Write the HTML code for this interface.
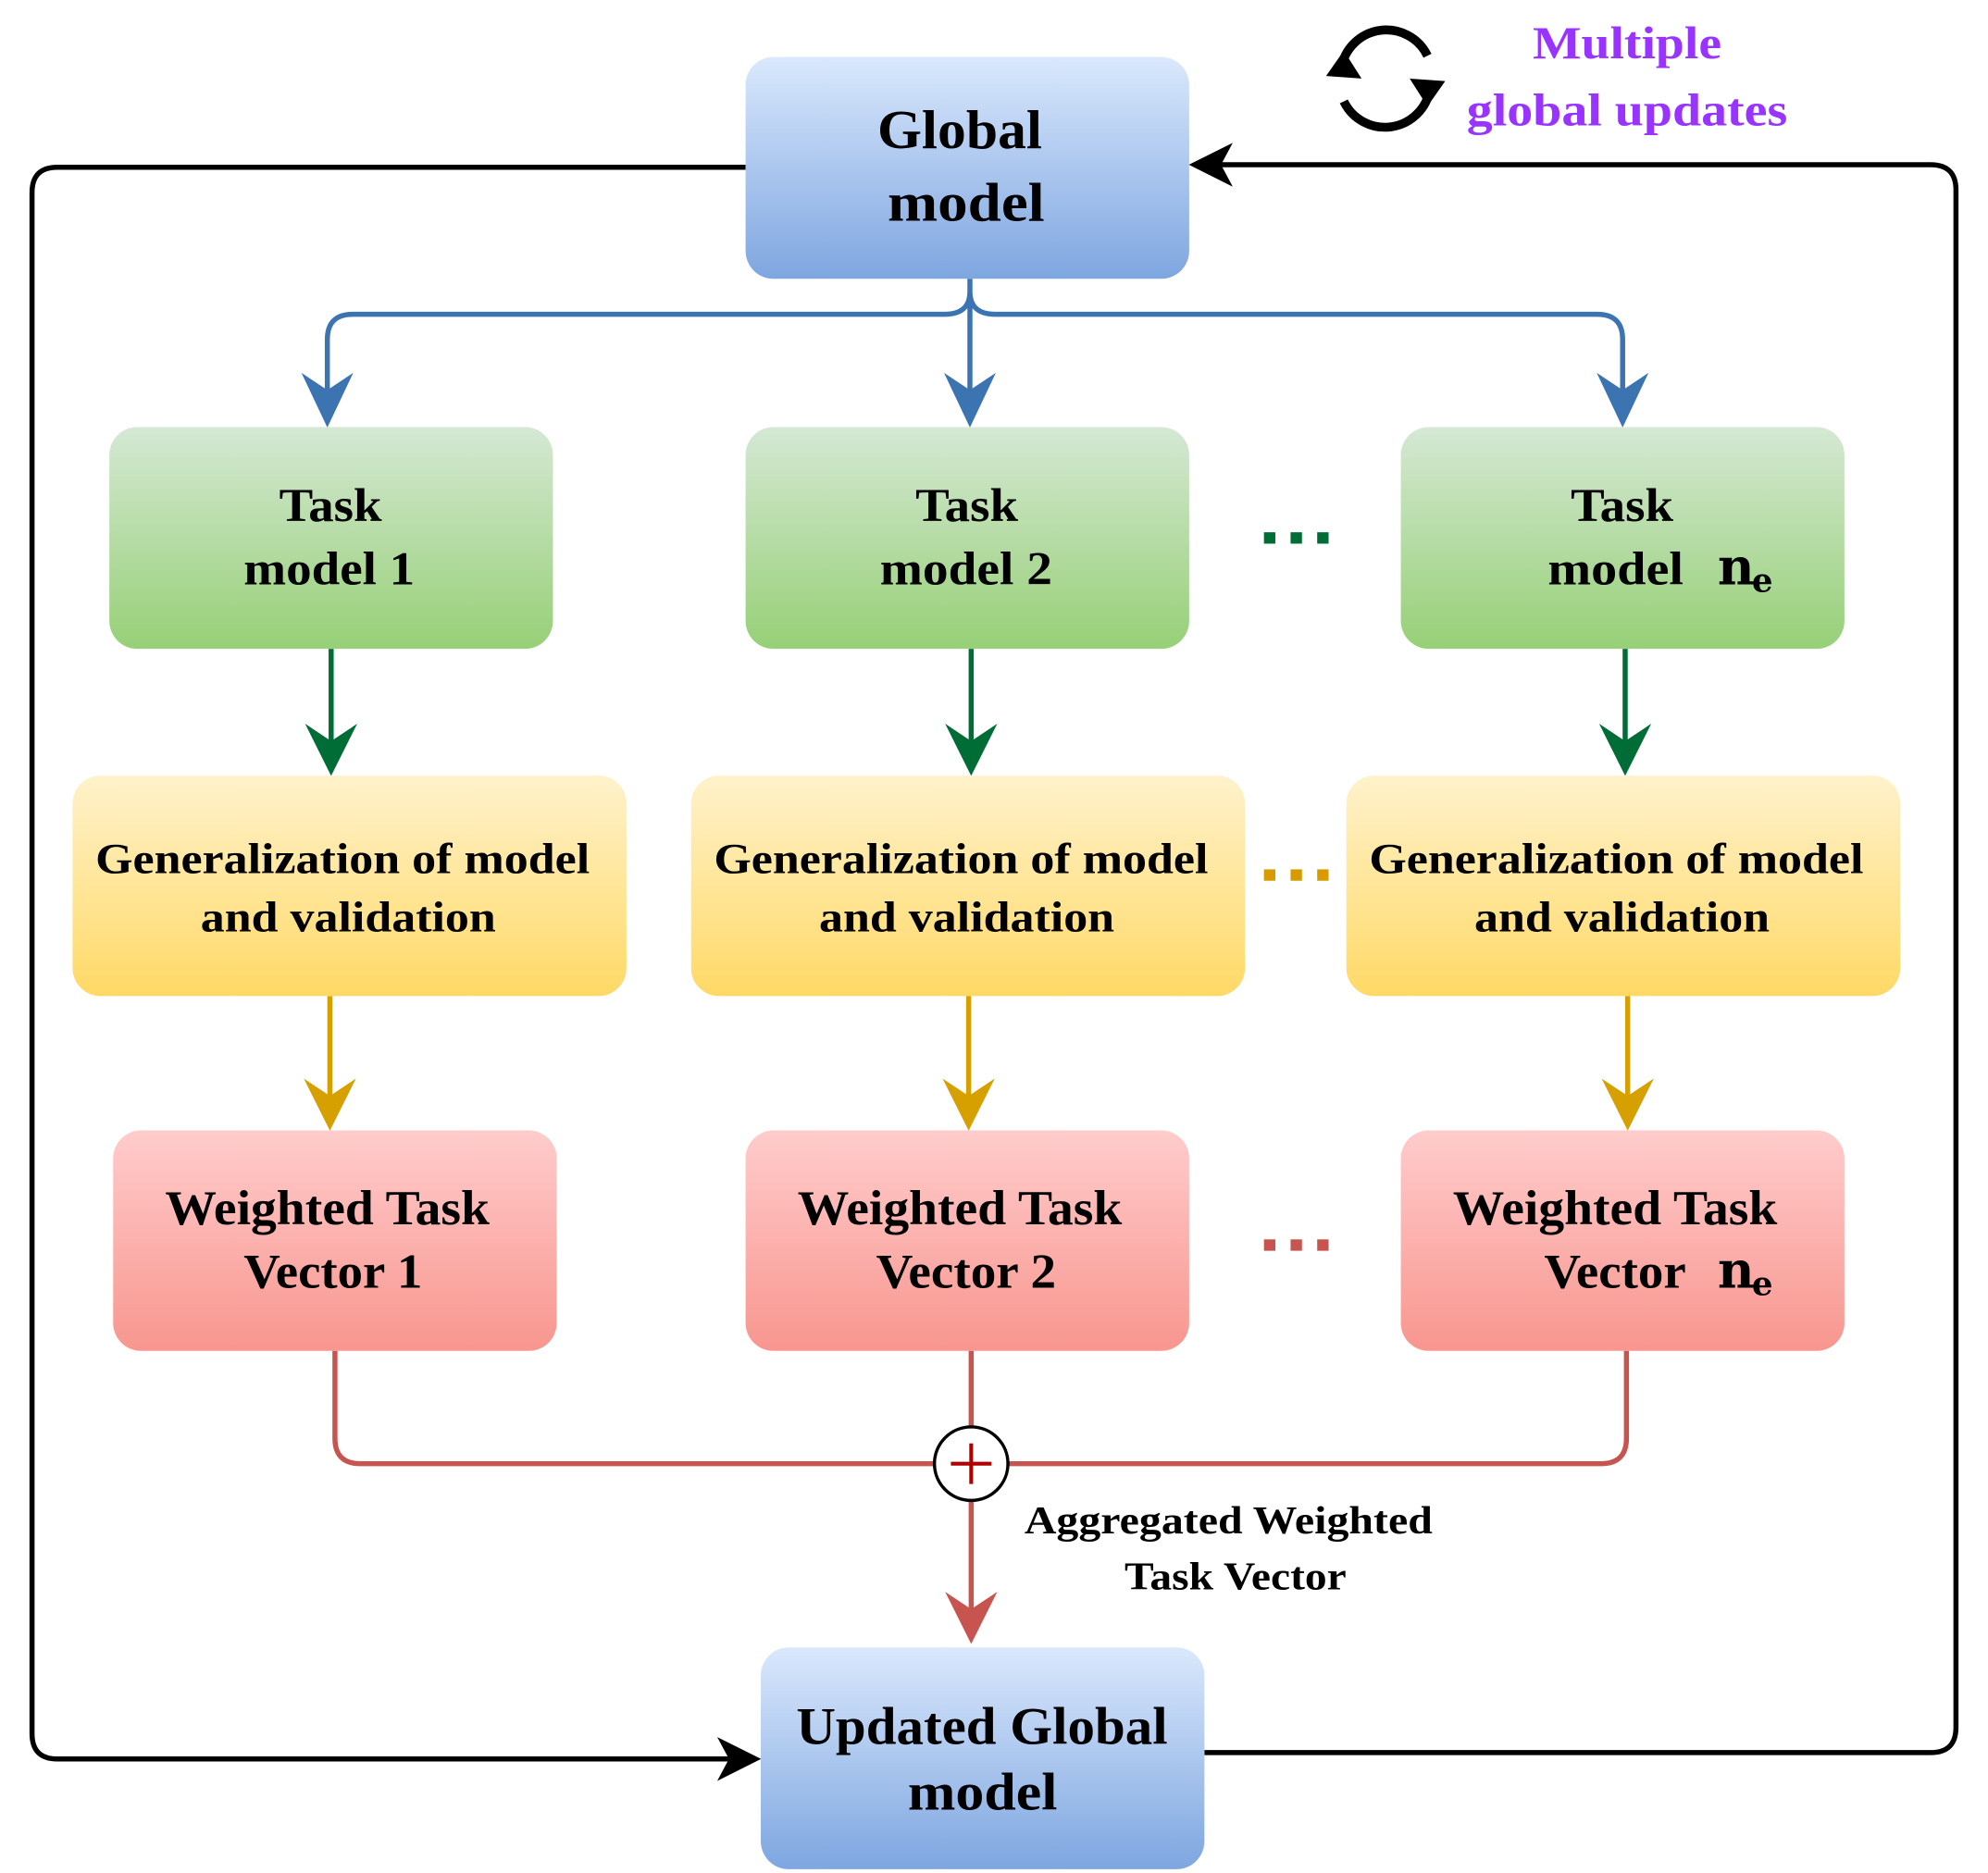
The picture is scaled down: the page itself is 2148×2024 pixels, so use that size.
<!DOCTYPE html>
<html><head><meta charset="utf-8"><style>html,body{margin:0;padding:0;background:#fff}svg{display:block}</style></head>
<body>
<svg width="2148" height="2024" viewBox="0 0 1568 1478" xmlns="http://www.w3.org/2000/svg" font-family="Liberation Serif, serif" font-weight="bold">
<defs>
<linearGradient id="gb" x1="0" y1="0" x2="0" y2="1"><stop offset="0" stop-color="#dae8fc"/><stop offset="1" stop-color="#7ea6e0"/></linearGradient>
<linearGradient id="gg" x1="0" y1="0" x2="0" y2="1"><stop offset="0" stop-color="#d5e8d4"/><stop offset="1" stop-color="#97d077"/></linearGradient>
<linearGradient id="gy" x1="0" y1="0" x2="0" y2="1"><stop offset="0" stop-color="#fff2cc"/><stop offset="1" stop-color="#ffd966"/></linearGradient>
<linearGradient id="gr" x1="0" y1="0" x2="0" y2="1"><stop offset="0" stop-color="#ffcccc"/><stop offset="1" stop-color="#f8968f"/></linearGradient>
</defs>
<g fill="none" stroke-width="4">
<path d="M588 132 H45 Q25 132 25 152 V1368 Q25 1388 45 1388 H590" stroke="#000"/>
<path d="M598 1388 l-30 -15 l8 15 l-8 15 z" fill="#000" stroke="#000" stroke-width="2"/>
<path d="M950 1383 H1523 Q1543 1383 1543 1363 V150 Q1543 130 1523 130 H962" stroke="#000"/>
<path d="M940 130 l30 -15 l-8 15 l8 15 z" fill="#000" stroke="#000" stroke-width="2"/>
<path d="M765 220 V230 Q765 248 745 248 H278 Q258 248 258 268 V315 M765 230 V315 M765 230 Q765 248 785 248 H1260 Q1280 248 1280 268 V315" stroke="#3b74b0"/>
<g fill="#3b74b0" stroke="#3b74b0" stroke-width="2"><path d="M258 335 l-18 -38 l18 12 l18 -12z"/><path d="M765 335 l-18 -38 l18 12 l18 -12z"/><path d="M1280 335 l-18 -38 l18 12 l18 -12z"/></g>
<path d="M261 512 V590 M766 512 V590 M1282 512 V590" stroke="#006d37"/>
<g fill="#006d37" stroke="#006d37" stroke-width="2"><path d="M261 610 l-18 -36 l18 12 l18 -12z"/><path d="M766 610 l-18 -36 l18 12 l18 -12z"/><path d="M1282 610 l-18 -36 l18 12 l18 -12z"/></g>
<path d="M260 786 V870 M764 786 V870 M1284 786 V870" stroke="#d6a000"/>
<g fill="#d6a000" stroke="#d6a000" stroke-width="2"><path d="M260 890 l-18 -36 l18 12 l18 -12z"/><path d="M764 890 l-18 -36 l18 12 l18 -12z"/><path d="M1284 890 l-18 -36 l18 12 l18 -12z"/></g>
<path d="M264 1066 V1135 Q264 1155 284 1155 H737 M1283 1066 V1135 Q1283 1155 1263 1155 H795 M766 1066 V1126 M766 1184 V1275" stroke="#c85450"/>
<path d="M766 1295 l-18 -36 l18 12 l18 -12z" fill="#c85450" stroke="#c85450" stroke-width="2"/>
</g>
<circle cx="766" cy="1155" r="29" fill="#fff" stroke="#000" stroke-width="2.5"/>
<path d="M766 1139 V1171 M750 1155 H782" stroke="#b00000" stroke-width="3"/>
<rect x="588" y="45" width="350" height="175" rx="22" fill="url(#gb)"/>
<rect x="600" y="1300" width="350" height="175" rx="22" fill="url(#gb)"/>
<rect x="86" y="337" width="350" height="175" rx="22" fill="url(#gg)"/>
<rect x="588" y="337" width="350" height="175" rx="22" fill="url(#gg)"/>
<rect x="1105" y="337" width="350" height="175" rx="22" fill="url(#gg)"/>
<rect x="57" y="612" width="437" height="174" rx="22" fill="url(#gy)"/>
<rect x="545" y="612" width="437" height="174" rx="22" fill="url(#gy)"/>
<rect x="1062" y="612" width="437" height="174" rx="22" fill="url(#gy)"/>
<rect x="89" y="892" width="350" height="174" rx="22" fill="url(#gr)"/>
<rect x="588" y="892" width="350" height="174" rx="22" fill="url(#gr)"/>
<rect x="1105" y="892" width="350" height="174" rx="22" fill="url(#gr)"/>
<g fill="#000" lengthAdjust="spacingAndGlyphs">
<text x="692" y="117" font-size="43" textLength="130" lengthAdjust="spacingAndGlyphs">Global</text>
<text x="700" y="174" font-size="43" textLength="124" lengthAdjust="spacingAndGlyphs">model</text>
<text x="628" y="1376" font-size="42" textLength="293" lengthAdjust="spacingAndGlyphs">Updated Global</text>
<text x="716" y="1428" font-size="42" textLength="118" lengthAdjust="spacingAndGlyphs">model</text>
<g font-size="37">
<text x="220" y="411" textLength="81" lengthAdjust="spacingAndGlyphs">Task</text>
<text x="192" y="461" textLength="135" lengthAdjust="spacingAndGlyphs">model 1</text>
<text x="722" y="411" textLength="81" lengthAdjust="spacingAndGlyphs">Task</text>
<text x="694" y="461" textLength="136" lengthAdjust="spacingAndGlyphs">model 2</text>
<text x="1239" y="411" textLength="81" lengthAdjust="spacingAndGlyphs">Task</text>
<text x="1221" y="461" textLength="107" lengthAdjust="spacingAndGlyphs">model</text>
<text x="1355" y="461" font-size="40" font-family="DejaVu Serif, serif">n</text><text x="1382" y="467" font-size="26" font-family="DejaVu Serif, serif">e</text>
</g>
<g font-size="34">
<text x="75" y="689" textLength="390" lengthAdjust="spacingAndGlyphs">Generalization of model</text>
<text x="158" y="735" textLength="233" lengthAdjust="spacingAndGlyphs">and validation</text>
<text x="563" y="689" textLength="390" lengthAdjust="spacingAndGlyphs">Generalization of model</text>
<text x="646" y="735" textLength="233" lengthAdjust="spacingAndGlyphs">and validation</text>
<text x="1080" y="689" textLength="390" lengthAdjust="spacingAndGlyphs">Generalization of model</text>
<text x="1163" y="735" textLength="233" lengthAdjust="spacingAndGlyphs">and validation</text>
</g>
<g font-size="39">
<text x="130" y="966" textLength="256" lengthAdjust="spacingAndGlyphs">Weighted Task</text>
<text x="192" y="1016" textLength="141" lengthAdjust="spacingAndGlyphs">Vector 1</text>
<text x="629" y="966" textLength="256" lengthAdjust="spacingAndGlyphs">Weighted Task</text>
<text x="691" y="1016" textLength="142" lengthAdjust="spacingAndGlyphs">Vector 2</text>
<text x="1146" y="966" textLength="256" lengthAdjust="spacingAndGlyphs">Weighted Task</text>
<text x="1218" y="1016" textLength="112" lengthAdjust="spacingAndGlyphs">Vector</text>
<text x="1355" y="1016" font-size="40" font-family="DejaVu Serif, serif">n</text><text x="1382" y="1022" font-size="26" font-family="DejaVu Serif, serif">e</text>
</g>
<g font-size="31">
<text x="808" y="1210" textLength="322" lengthAdjust="spacingAndGlyphs">Aggregated Weighted</text>
<text x="887" y="1254" textLength="175" lengthAdjust="spacingAndGlyphs">Task Vector</text>
</g>
<g font-size="36" fill="#9933ff">
<text x="1209" y="46" textLength="149" lengthAdjust="spacingAndGlyphs">Multiple</text>
<text x="1157" y="99" textLength="253" lengthAdjust="spacingAndGlyphs">global updates</text>
</g>
</g>
<g>
<rect x="997" y="420" width="9" height="9" fill="#006d37"/><rect x="1018" y="420" width="9" height="9" fill="#006d37"/><rect x="1039" y="420" width="9" height="9" fill="#006d37"/>
<rect x="997" y="686" width="9" height="9" fill="#d79b00"/><rect x="1018" y="686" width="9" height="9" fill="#d79b00"/><rect x="1039" y="686" width="9" height="9" fill="#d79b00"/>
<rect x="997" y="978" width="9" height="9" fill="#c85450"/><rect x="1018" y="978" width="9" height="9" fill="#c85450"/><rect x="1039" y="978" width="9" height="9" fill="#c85450"/>
</g>
<g fill="none" stroke="#000" stroke-width="7">
<path d="M1060 80 A36 36 0 0 0 1128 70"/>
<path d="M1126 44 A36 36 0 0 0 1058 54"/>
</g>
<path d="M1046 60 l14 -20 l14 22z M1140 64 l-14 20 l-14 -22z" fill="#000"/>
</svg>
</body></html>
